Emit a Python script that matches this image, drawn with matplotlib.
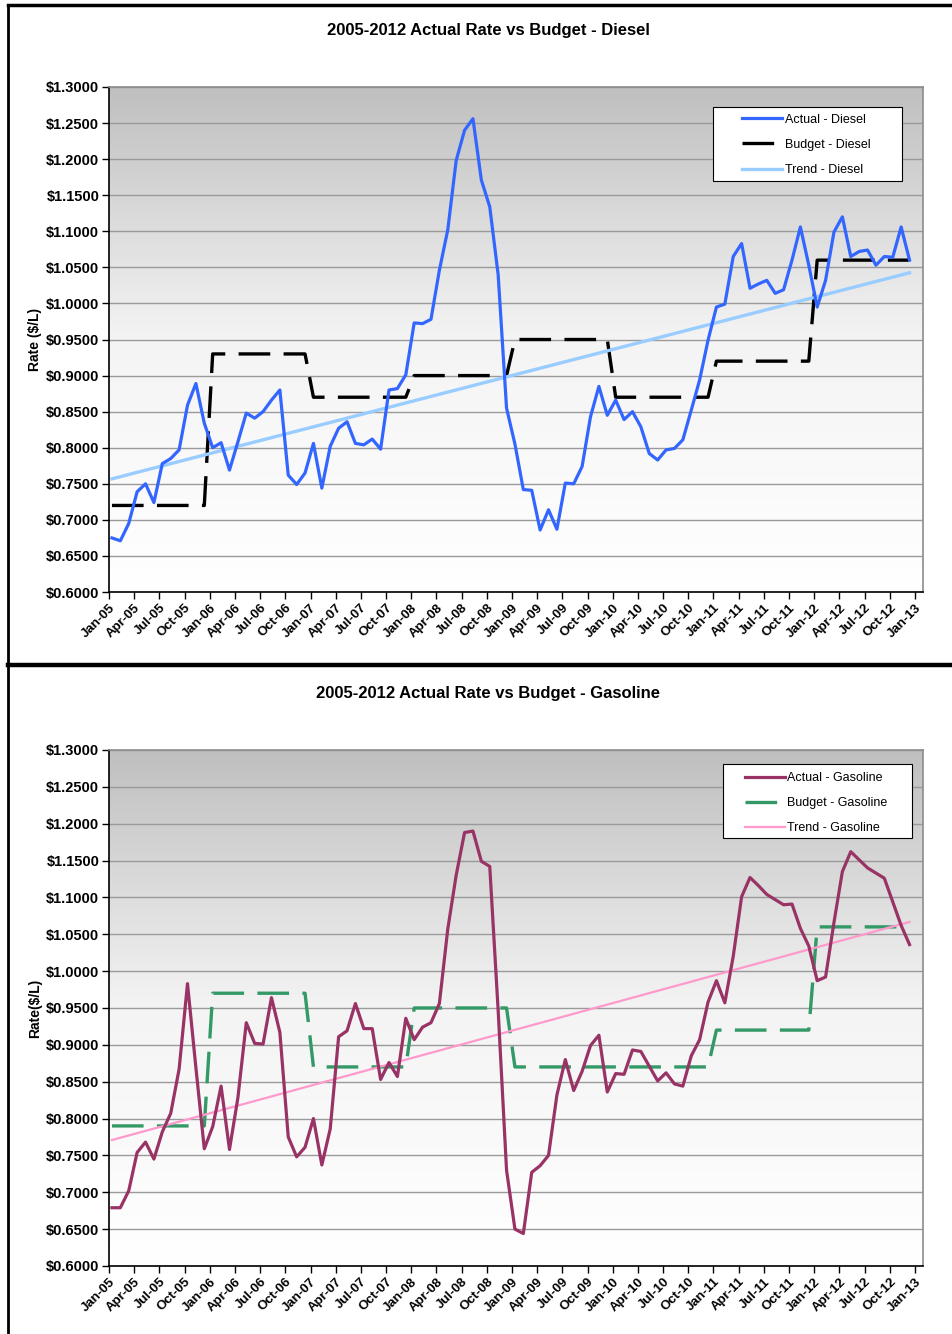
import numpy as np
import matplotlib
matplotlib.use("Agg")
import matplotlib.pyplot as plt
from matplotlib.colors import LinearSegmentedColormap
from matplotlib.lines import Line2D
from matplotlib.patches import Rectangle

plt.rcParams['font.family'] = ['Liberation Sans', 'DejaVu Sans']

# monthly rates, Jan-05 .. Dec-12
diesel_actual = [
    0.675, 0.671, 0.695, 0.739, 0.750, 0.724, 0.778, 0.785, 0.797, 0.859, 0.889, 0.834,
    0.800, 0.807, 0.769, 0.808, 0.848, 0.841, 0.850, 0.866, 0.880, 0.762, 0.749, 0.765,
    0.806, 0.744, 0.802, 0.827, 0.836, 0.806, 0.804, 0.812, 0.798, 0.880, 0.882, 0.901,
    0.973, 0.972, 0.978, 1.046, 1.102, 1.198, 1.240, 1.256, 1.171, 1.134, 1.040, 0.855,
    0.805, 0.742, 0.741, 0.686, 0.714, 0.687, 0.751, 0.750, 0.774, 0.843, 0.885, 0.845,
    0.866, 0.839, 0.850, 0.829, 0.792, 0.783, 0.797, 0.799, 0.811, 0.852, 0.894, 0.949,
    0.995, 0.999, 1.065, 1.083, 1.021, 1.027, 1.032, 1.014, 1.019, 1.060, 1.106, 1.053,
    0.995, 1.032, 1.099, 1.120, 1.065, 1.072, 1.074, 1.053, 1.065, 1.064, 1.106, 1.060,
]
gas_actual = [
    0.679, 0.679, 0.702, 0.754, 0.768, 0.745, 0.782, 0.807, 0.867, 0.983, 0.869, 0.759,
    0.789, 0.844, 0.758, 0.828, 0.930, 0.902, 0.901, 0.964, 0.917, 0.775, 0.748, 0.761,
    0.800, 0.737, 0.786, 0.911, 0.919, 0.956, 0.922, 0.922, 0.853, 0.876, 0.857, 0.936,
    0.907, 0.924, 0.930, 0.956, 1.057, 1.130, 1.188, 1.190, 1.149, 1.142, 0.947, 0.730,
    0.650, 0.644, 0.727, 0.736, 0.750, 0.832, 0.880, 0.838, 0.864, 0.899, 0.913, 0.836,
    0.861, 0.860, 0.893, 0.891, 0.871, 0.851, 0.862, 0.847, 0.844, 0.885, 0.907, 0.958,
    0.987, 0.957, 1.020, 1.101, 1.127, 1.116, 1.104, 1.097, 1.090, 1.091, 1.058, 1.034,
    0.987, 0.992, 1.066, 1.135, 1.162, 1.151, 1.140, 1.133, 1.126, 1.094, 1.062, 1.036,
]
# annual budget rates 2005..2012
diesel_budget_year = [0.72, 0.93, 0.87, 0.90, 0.95, 0.87, 0.92, 1.06]
gas_budget_year = [0.79, 0.97, 0.87, 0.95, 0.87, 0.87, 0.92, 1.06]

tick_labels = []
for yr in range(5, 13):
    for mon in ["Jan", "Apr", "Jul", "Oct"]:
        tick_labels.append(f"{mon}-{yr:02d}")
tick_labels.append("Jan-13")

months = np.arange(len(diesel_actual)) + 0.35

grad_cmap = LinearSegmentedColormap.from_list("bg", ["#ffffff", "#f4f4f4", "#bfbfbf"])


def draw_panel(ax, actual, budget_year, name, c_act, c_bud, c_trend, trend_lw, ylabel):
    budget = np.repeat(budget_year, 12)
    coef = np.polyfit(months, actual, 1)
    trend = np.polyval(coef, months)

    grad = np.linspace(0, 1, 256).reshape(-1, 1)
    ax.imshow(grad, extent=[0, 1, 0, 1], transform=ax.transAxes, aspect='auto',
              cmap=grad_cmap, origin='lower', zorder=0)

    ax.plot(months, actual, color=c_act, lw=2.3, label=f"Actual - {name}", zorder=4)
    ax.plot(months, budget, color=c_bud, lw=2.4, dashes=(9.5, 4), label=f"Budget - {name}", zorder=3)
    ax.plot(months, trend, color=c_trend, lw=trend_lw, label=f"Trend - {name}", zorder=3.5)

    ax.set_xlim(0, 96.95)
    ax.set_ylim(0.60, 1.30)
    yt = np.arange(0.60, 1.3001, 0.05)
    ax.set_yticks(yt)
    ax.set_yticklabels([f"${v:.4f}" for v in yt], fontsize=10.5, fontweight='bold')
    ax.set_xticks(np.arange(0, 97, 3))
    ax.set_xticklabels(tick_labels, rotation=45, ha='right', rotation_mode='anchor',
                       fontsize=9.5, fontweight='bold')
    ax.grid(axis='y', color='#9a9a9a', lw=1.0, zorder=1)
    ax.set_axisbelow(True)
    ax.tick_params(direction='out', length=5, width=1, color='black', pad=2)
    for s in ['left', 'bottom']:
        ax.spines[s].set_color('black')
        ax.spines[s].set_linewidth(1.2)
    for s in ['top', 'right']:
        ax.spines[s].set_color('#8c8c8c')
        ax.spines[s].set_linewidth(1.2)
    ax.set_ylabel(ylabel, fontsize=10, fontweight='bold', labelpad=3)


def add_legend(ax, box, anchor):
    # white box drawn by hand so the padding matches the original
    x0, y0, x1, y1 = box
    ax.add_patch(Rectangle((x0, y0), x1 - x0, y1 - y0, transform=ax.transAxes,
                           facecolor='white', edgecolor='black', lw=0.8, zorder=9))
    leg = ax.legend(loc='upper left', bbox_to_anchor=anchor, fontsize=9, frameon=False,
                    handlelength=3.2, handletextpad=0.2, labelspacing=1.05,
                    borderpad=0, borderaxespad=0)
    leg.set_zorder(10)


fig = plt.figure(figsize=(9.52, 13.34), dpi=100)
ax1 = fig.add_axes([0.1145, 0.5562, 0.855, 0.3786])
ax2 = fig.add_axes([0.1145, 0.0510, 0.855, 0.3868])

draw_panel(ax1, diesel_actual, diesel_budget_year, "Diesel", "#3366ff", "black", "#99ccff", 2.4, "Rate ($/L)")
draw_panel(ax2, gas_actual, gas_budget_year, "Gasoline", "#993366", "#339966", "#ff99cc", 1.6, "Rate($/L)")

add_legend(ax1, (0.742, 0.814, 0.974, 0.960), (0.778, 0.947))
add_legend(ax2, (0.754, 0.829, 0.986, 0.973), (0.781, 0.957))

fig.text(0.513, 0.9768, "2005-2012 Actual Rate vs Budget - Diesel", ha='center', va='center',
         fontsize=12, fontweight='bold')
fig.text(0.513, 0.4805, "2005-2012 Actual Rate vs Budget - Gasoline", ha='center', va='center',
         fontsize=12, fontweight='bold')

# outer frame lines
fig.add_artist(Line2D([8 / 952, 1], [1 - 5 / 1334, 1 - 5 / 1334], color='black', lw=2.5))
fig.add_artist(Line2D([8 / 952, 8 / 952], [0, 1 - 5 / 1334], color='black', lw=2.0))
fig.add_artist(Line2D([8 / 952, 1], [1 - 665 / 1334, 1 - 665 / 1334], color='black', lw=3.2))

fig.savefig("out.png", dpi=100)
